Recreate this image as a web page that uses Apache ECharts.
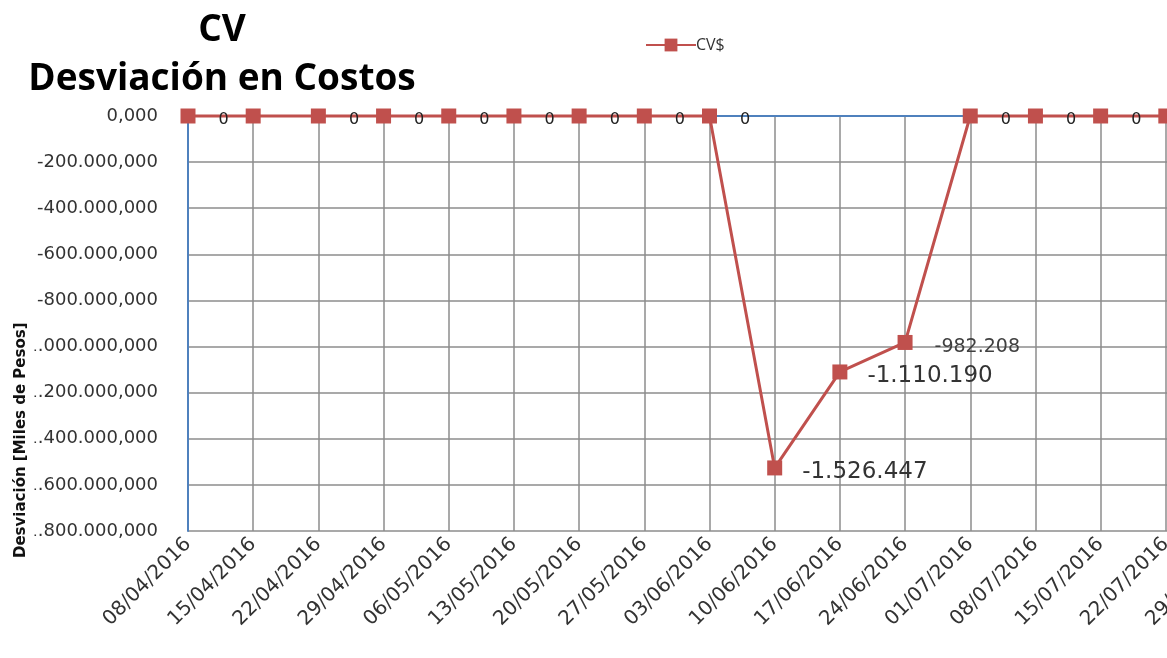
<!DOCTYPE html>
<html>
<head>
<meta charset="utf-8">
<script src="https://cdn.jsdelivr.net/npm/echarts@6/dist/echarts.min.js"></script>
<style>
html,body{margin:0;padding:0;background:#fff;}
#chart{width:1167px;height:658px;}
</style>
</head>
<body>
<div id="chart"></div>
<script>
// ---- data ----
const categories = ['08/04/2016','15/04/2016','22/04/2016','29/04/2016','06/05/2016','13/05/2016','20/05/2016','27/05/2016','03/06/2016','10/06/2016','17/06/2016','24/06/2016','01/07/2016','08/07/2016','15/07/2016','22/07/2016','29/07/2016'];
const cvValues = [0,0,0,0,0,0,0,0,0,-1526447,-1110190,-982208,0,0,0,0,0];
const hiddenLabelIdx = [1, 16];
const yMin = -1800000, yMax = 0, yStep = 200000;
const seriesName = 'CV$';
const titleText = 'CV\nDesviación en Costos';
const yAxisTitle = 'Desviación [Miles de Pesos]';

function groupDots(n){
  const s = String(Math.abs(Math.round(n)));
  return (n < 0 ? '-' : '') + s.replace(/\B(?=(\d{3})+(?!\d))/g, '.');
}

const RED = '#c0504d';
const seriesData = cvValues.map((v, i) => {
  let label;
  if (hiddenLabelIdx.indexOf(i) >= 0) label = {show:false};
  else if (v === 0) label = {show:true, position:'right', distance:23, offset:[0,4], fontSize:16, color:'#222'};
  else if (v > -1000000) label = {show:true, position:'right', distance:22, offset:[0,5], fontSize:19, color:'#404040'};
  else label = {show:true, position:'right', distance:20, offset:[0,4], fontSize:23, color:'#333'};
  return {value: v, label: label};
});

const chart = echarts.init(document.getElementById('chart'));
chart.setOption({
  animation:false,
  backgroundColor:'#fff',
  textStyle:{fontFamily:'DejaVu Sans'},
  title:{
    text: titleText,
    left: 217, top: 1, textAlign:'center',
    textStyle:{fontFamily:'Open Sans', fontWeight:'bold', fontSize:37, lineHeight:49, color:'#000'}
  },
  legend:{
    left: 640, top: 32,
    itemWidth:50, itemHeight:16, itemGap:5,
    textStyle:{fontFamily:'Open Sans', fontSize:16, color:'#333', padding:[0,0,0,-5]},
    data:[seriesName]
  },
  grid:{left:188, top:116, right:-64, bottom:127, containLabel:false, outerBoundsMode:'none'},
  xAxis:{
    type:'category', data: categories, boundaryGap:false,
    axisLine:{show:true, lineStyle:{color:'#4f81bd', width:2}},
    axisTick:{show:false},
    axisLabel:{interval:0, rotate:45, fontSize:20, color:'#333', margin:10, fontFamily:'DejaVu Sans'},
    splitLine:{show:true, lineStyle:{color:'#8c8c8c', width:1.5}}
  },
  yAxis:{
    type:'value', min:yMin, max:yMax, interval:yStep,
    axisLine:{show:true, lineStyle:{color:'#4f81bd', width:2}},
    axisTick:{show:false},
    axisLabel:{fontSize:18, color:'#333', margin:30, fontFamily:'DejaVu Sans', padding:[7,0,0,0],
      formatter: v => groupDots(v) + ',000'},
    splitLine:{show:true, lineStyle:{color:'#8c8c8c', width:1.5}}
  },
  graphic:[{
    type:'text', x: 21, y: 560, rotation: Math.PI/2, z: 100,
    style:{text: yAxisTitle, font:'bold 15px "DejaVu Sans"', fill:'#111',
      align:'left', verticalAlign:'middle',
      backgroundColor:'#fff', padding:[6,2]}
  }],
  series:[{
    name: seriesName, type:'line', data: seriesData,
    symbol:'rect', symbolSize:15,
    itemStyle:{color:RED},
    lineStyle:{color:RED, width:3},
    label:{fontFamily:'DejaVu Sans', formatter: p => groupDots(p.value)},
    clip:false
  }]
});
</script>
</body>
</html>
